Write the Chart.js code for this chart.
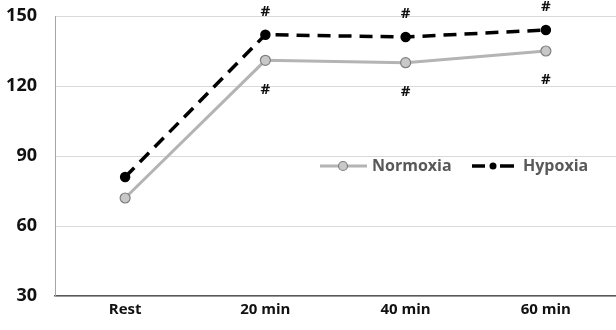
<!DOCTYPE html>
<html>
<head>
<meta charset="utf-8">
<script src="https://cdn.jsdelivr.net/npm/chart.js@4.4.1/dist/chart.umd.min.js"></script>
<style>
html,body{margin:0;padding:0;background:#fff;overflow:hidden;}
#wrap{width:616px;height:330px;position:relative;}
</style>
</head>
<body>
<div id="wrap"><canvas id="c" width="616" height="330"></canvas></div>
<script>
const categories = ["Rest", "20 min", "40 min", "60 min"];
const normoxia = [72, 131, 130, 135];
const hypoxia = [81, 142, 141, 144];
const yTicks = [30, 60, 90, 120, 150];
// significance markers: which points carry '#'
const hypoxiaMarks = [false, true, true, true];
const normoxiaMarks = [false, true, true, true];

const FONT = "'Open Sans', Lato, sans-serif";

const extras = {
  id: 'extras',
  afterDatasetsDraw(chart) {
    const ctx = chart.ctx;
    ctx.save();
    ctx.font = "bold 15px " + FONT;
    ctx.fillStyle = "#111";
    ctx.textAlign = "center";
    ctx.textBaseline = "middle";
    const mh = chart.getDatasetMeta(1).data;
    const mn = chart.getDatasetMeta(0).data;
    hypoxiaMarks.forEach((m, i) => { if (m) ctx.fillText("#", mh[i].x, mh[i].y - 23); });
    normoxiaMarks.forEach((m, i) => { if (m) ctx.fillText("#", mn[i].x, mn[i].y + 29); });

    // legend
    const ly = 166;
    ctx.lineCap = "butt";
    ctx.strokeStyle = "#b4b4b4"; ctx.lineWidth = 3;
    ctx.beginPath(); ctx.moveTo(320, ly); ctx.lineTo(367, ly); ctx.stroke();
    ctx.beginPath(); ctx.arc(343, ly, 4.5, 0, Math.PI * 2);
    ctx.fillStyle = "#c8c8c8"; ctx.fill();
    ctx.strokeStyle = "#7f7f7f"; ctx.lineWidth = 1.2; ctx.stroke();
    ctx.fillStyle = "#595959"; ctx.textAlign = "left";
    ctx.font = "bold 16px " + FONT;
    ctx.fillText("Normoxia", 372, ly);
    ctx.strokeStyle = "#000"; ctx.lineWidth = 3.5;
    ctx.beginPath(); ctx.moveTo(472, ly); ctx.lineTo(485, ly); ctx.stroke();
    ctx.beginPath(); ctx.moveTo(500, ly); ctx.lineTo(514, ly); ctx.stroke();
    ctx.beginPath(); ctx.arc(493, ly, 3.5, 0, Math.PI * 2); ctx.fillStyle = "#000"; ctx.fill();
    ctx.fillStyle = "#595959";
    ctx.fillText("Hypoxia", 523, ly);
    ctx.restore();
  }
};

new Chart(document.getElementById('c'), {
  type: 'line',
  data: {
    labels: categories,
    datasets: [
      {
        label: "Normoxia",
        data: normoxia,
        borderColor: "#b4b4b4",
        borderWidth: 3,
        pointRadius: 5,
        pointBackgroundColor: "#c8c8c8",
        pointBorderColor: "#7f7f7f",
        pointBorderWidth: 1.2,
        tension: 0
      },
      {
        label: "Hypoxia",
        data: hypoxia,
        borderColor: "#000",
        borderWidth: 3.5,
        borderDash: [13, 8],
        pointRadius: 3.5,
        pointBackgroundColor: "#000",
        pointBorderColor: "#000",
        tension: 0
      }
    ]
  },
  options: {
    responsive: false,
    animation: false,
    devicePixelRatio: 1,
    layout: { autoPadding: false, padding: { top: 16, right: 0, left: 0, bottom: 0 } },
    plugins: { legend: { display: false }, tooltip: { enabled: false } },
    scales: {
      x: {
        offset: true,
        grid: { display: false, drawTicks: false },
        border: { color: "#595959", width: 1.5 },
        ticks: { color: "#111", font: { family: FONT, size: 15, weight: "bold" }, padding: 5 },
        afterFit(s) { s.height = 34; s.paddingLeft = 0; s.paddingRight = 0; }
      },
      y: {
        min: 30, max: 150,
        afterBuildTicks(s) { s.ticks = yTicks.map(v => ({ value: v })); },
        grid: { color: "#d9d9d9", lineWidth: 1, drawTicks: false },
        border: { color: "#a6a6a6", width: 1 },
        ticks: { color: "#111", font: { family: FONT, size: 18, weight: "bold" }, padding: 18 },
        afterFit(s) { s.width = 55; s.paddingTop = 0; s.paddingBottom = 0; }
      }
    }
  },
  plugins: [extras]
});
</script>
</body>
</html>
